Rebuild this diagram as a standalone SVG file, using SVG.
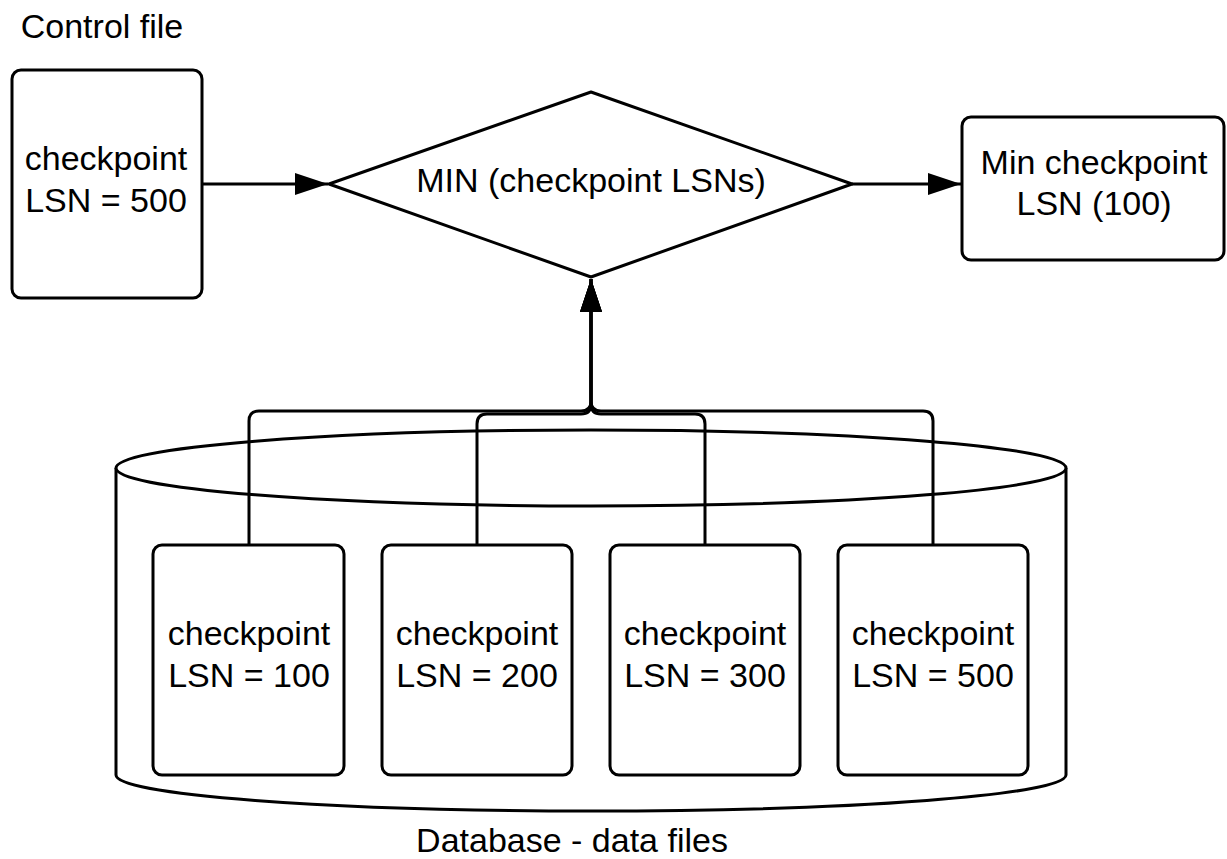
<svg xmlns="http://www.w3.org/2000/svg" width="1227" height="859" viewBox="0 0 1227 859">
<style>
.s{fill:#fff;stroke:#000;stroke-width:3;stroke-linejoin:round}
.c{fill:none;stroke:#000;stroke-width:3;stroke-linejoin:round}
text{font-family:"Liberation Sans",Arial,sans-serif;font-size:34px;fill:#000;text-anchor:middle}
</style>
<defs>
<marker id="ah" markerUnits="userSpaceOnUse" markerWidth="34" markerHeight="24" refX="33" refY="11" orient="auto">
<path d="M0,0 L33,11 L0,22 z" fill="#000"/>
</marker>
</defs>
<rect width="1227" height="859" fill="#fff"/>
<g id="cylinder">
<path class="s" d="M116,468 V775 A475,36 0 0 0 1066,775 V468"/>
<ellipse class="s" cx="591" cy="468" rx="475" ry="38"/>
<text x="572" y="852">Database - data files</text>
</g>
<g id="control">
<text x="102" y="38">Control file</text>
<rect class="s" x="12" y="70" width="190" height="228" rx="9"/>
<text x="106" y="170">checkpoint</text>
<text x="106" y="212">LSN = 500</text>
</g>
<g id="min">
<polygon class="s" points="329,184 591,92 852,184 591,277"/>
<text x="591" y="192">MIN (checkpoint LSNs)</text>
</g>
<g id="result">
<rect class="s" x="962" y="117" width="262" height="143" rx="9"/>
<text x="1094" y="174">Min checkpoint</text>
<text x="1094" y="215">LSN (100)</text>
</g>
<g id="df1">
<rect class="s" x="153" y="545" width="191" height="230" rx="9"/>
<text x="249" y="645">checkpoint</text>
<text x="249" y="687">LSN = 100</text>
</g>
<g id="df2">
<rect class="s" x="382" y="545" width="190" height="230" rx="9"/>
<text x="477" y="645">checkpoint</text>
<text x="477" y="687">LSN = 200</text>
</g>
<g id="df3">
<rect class="s" x="610" y="545" width="190" height="230" rx="9"/>
<text x="705" y="645">checkpoint</text>
<text x="705" y="687">LSN = 300</text>
</g>
<g id="df4">
<rect class="s" x="838" y="545" width="190" height="230" rx="9"/>
<text x="933" y="645">checkpoint</text>
<text x="933" y="687">LSN = 500</text>
</g>
<g id="connectors">
<path class="c" d="M202,184 H328" marker-end="url(#ah)"/>
<path class="c" d="M852,184 H961" marker-end="url(#ah)"/>
<path class="c" d="M249,545 V421 Q249,411 259,411 H581 Q591,411 591,401 V279" marker-end="url(#ah)"/>
<path class="c" d="M477,545 V424 Q477,414 487,414 H581 Q591,414 591,404 V279" marker-end="url(#ah)"/>
<path class="c" d="M705,545 V424 Q705,414 695,414 H601 Q591,414 591,404 V279" marker-end="url(#ah)"/>
<path class="c" d="M933,545 V421 Q933,411 923,411 H601 Q591,411 591,401 V279" marker-end="url(#ah)"/>
</g>
</svg>
